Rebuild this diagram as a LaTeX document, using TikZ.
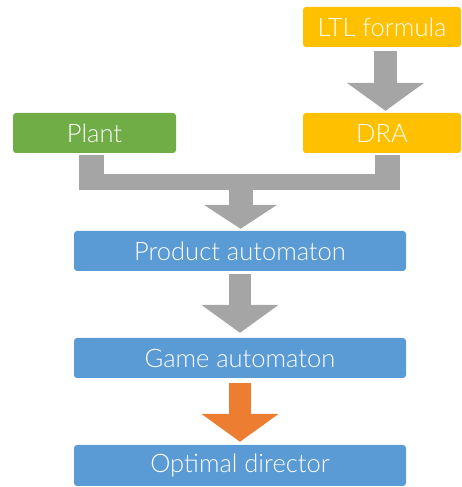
\documentclass[tikz,border=0pt]{standalone}
\usepackage{fontspec}
\setmainfont{Lato Light}
\usetikzlibrary{arrows.meta}

\definecolor{plantgreen}{HTML}{70AD47}
\definecolor{specyellow}{HTML}{FFC000}
\definecolor{autblue}{HTML}{5B9BD5}
\definecolor{arrgray}{HTML}{A5A5A5}
\definecolor{arrorange}{HTML}{ED7D31}

\tikzset{
  box/.style={rounded corners=3pt, minimum height=40pt, inner sep=0pt,
    text=white, font=\fontsize{25.5}{30}\selectfont},
  bigarrow/.style={line width=22pt, arrgray,
    -{Triangle[length=28pt 0 0,width=76pt 0 0]}},
  stem/.style={line width=25pt, arrgray}
}

\begin{document}
\begin{tikzpicture}[x=1pt,y=1pt]
  \useasboundingbox (0,0) rectangle (461,487);
  % Eingaben
  \node[box, fill=specyellow, minimum width=158pt] (ltl) at (382,460) {LTL formula};
  \node[box, fill=specyellow, minimum width=158pt] (dra) at (382,354) {DRA};
  \node[box, fill=plantgreen, minimum width=163pt] (plant) at (94.5,354) {Plant};
  % Automaten
  \node[box, fill=autblue, minimum width=332pt] (prod) at (240,236) {Product automaton};
  \node[box, fill=autblue, minimum width=332pt] (game) at (240,129) {Game automaton};
  \node[box, fill=autblue, minimum width=332pt, minimum height=41pt] (opt) at (240,21.5) {Optimal director};
  % Pfeile
  \draw[bigarrow, line width=23pt, shorten <=4pt, shorten >=2pt]
    ([xshift=3.5pt]ltl.south) -- ([xshift=3.5pt]dra.north);
  \coordinate (jn) at (240,297);
  \draw[stem] ([xshift=-3pt,yshift=-2pt]plant.south) -- ([xshift=-3pt]plant.south |- jn);
  \draw[stem] ([xshift=5.5pt,yshift=-2pt]dra.south) -- ([xshift=5.5pt]dra.south |- jn);
  \fill[arrgray] ([xshift=-15.5pt,yshift=16pt]plant.south |- jn) rectangle ([xshift=18pt]dra.south |- jn);
  \draw[bigarrow, line width=24pt, -{Triangle[length=24pt 0 0,width=72pt 0 0]}, shorten >=2pt]
    ([xshift=0.5pt,yshift=8pt]jn) -- ([xshift=0.5pt]prod.north);
  \draw[bigarrow, shorten <=3pt, shorten >=5pt] (prod.south) -- (game.north);
  \draw[bigarrow, arrorange, shorten <=5pt, shorten >=3pt] (game.south) -- (opt.north);
\end{tikzpicture}
\end{document}
